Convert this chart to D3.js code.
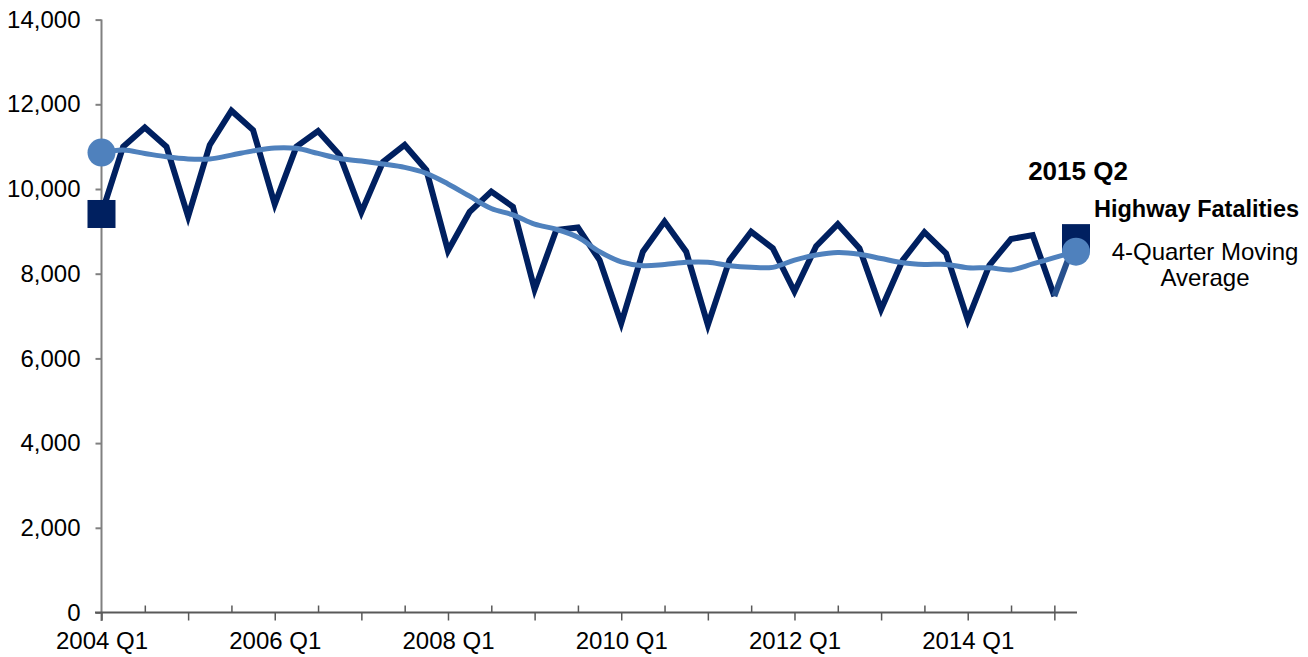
<!DOCTYPE html>
<html>
<head>
<meta charset="utf-8">
<script src="https://cdn.jsdelivr.net/npm/d3@7"></script>
<style>
  body { margin: 0; background: #fff; }
  svg text { font-family: "Liberation Sans", Arial, sans-serif; fill: #000; }
</style>
</head>
<body>
<div class="chart"></div>
<script>
var svgWidth = 1308;
var svgHeight = 657;

// quarters shown on the x axis
var quarters = [
  "2004 Q1", "2004 Q2", "2004 Q3", "2004 Q4",
  "2005 Q1", "2005 Q2", "2005 Q3", "2005 Q4",
  "2006 Q1", "2006 Q2", "2006 Q3", "2006 Q4",
  "2007 Q1", "2007 Q2", "2007 Q3", "2007 Q4",
  "2008 Q1", "2008 Q2", "2008 Q3", "2008 Q4",
  "2009 Q1", "2009 Q2", "2009 Q3", "2009 Q4",
  "2010 Q1", "2010 Q2", "2010 Q3", "2010 Q4",
  "2011 Q1", "2011 Q2", "2011 Q3", "2011 Q4",
  "2012 Q1", "2012 Q2", "2012 Q3", "2012 Q4",
  "2013 Q1", "2013 Q2", "2013 Q3", "2013 Q4",
  "2014 Q1", "2014 Q2", "2014 Q3", "2014 Q4",
  "2015 Q1", "2015 Q2"
];

// highway fatalities per quarter
var fatalities = [
  9410, 11000, 11450, 11000,
  9350, 11040, 11850, 11390,
  9640, 11000, 11370, 10800,
  9450, 10640, 11040, 10450,
  8540, 9460, 9940, 9580,
  7630, 9030, 9090, 8320,
  6830, 8520, 9230, 8520,
  6790, 8320, 8990, 8600,
  7580, 8650, 9170, 8600,
  7160, 8320, 8980, 8480,
  6910, 8200, 8820, 8910,
  7470, 8840
];

// 4-quarter moving average
var movingAvg = [
  10860, 10920, 10840, 10760,
  10710, 10710, 10800, 10900,
  10970, 10960, 10840, 10720,
  10660, 10590, 10510, 10370,
  10120, 9830, 9540, 9390,
  9170, 9050, 8860, 8520,
  8280, 8190, 8220, 8270,
  8270, 8190, 8150, 8150,
  8320, 8440, 8500, 8460,
  8360, 8260, 8220, 8220,
  8140, 8140, 8090, 8230,
  8380, 8520
];

var yTicks = [0, 2000, 4000, 6000, 8000, 10000, 12000, 14000];
var downTicks = ["2004 Q1", "2005 Q1", "2006 Q1", "2007 Q1", "2008 Q1", "2009 Q1",
  "2010 Q1", "2011 Q1", "2012 Q1", "2013 Q1", "2014 Q1", "2015 Q1"];
var upTicks = ["2004 Q3", "2005 Q3", "2006 Q3", "2007 Q3", "2008 Q3", "2009 Q3",
  "2010 Q3", "2011 Q3", "2012 Q3", "2013 Q3", "2014 Q3", "2015 Q1"];
var tickLabels = ["2004 Q1", "2006 Q1", "2008 Q1", "2010 Q1", "2012 Q1", "2014 Q1"];

var svg = d3.select(".chart")
  .append("svg")
  .attr("width", svgWidth)
  .attr("height", svgHeight);

var xScale = d3.scalePoint()
  .domain(quarters)
  .range([101.5, 1076]);

var yScale = d3.scaleLinear()
  .domain([0, 14000])
  .range([612.5, 19.6]);

// y axis
var leftAxis = d3.axisLeft(yScale)
  .tickValues(yTicks)
  .tickSize(6)
  .tickPadding(15)
  .tickFormat(d3.format(","));

var yAxis = svg.append("g")
  .attr("transform", "translate(101.5,0)")
  .call(leftAxis);
yAxis.select(".domain").remove();
yAxis.selectAll("line").attr("stroke", "#808080").attr("stroke-width", 2);
yAxis.selectAll("text").style("font-size", "24px").attr("fill", "#000");

svg.append("line")
  .attr("x1", 101.5).attr("x2", 101.5)
  .attr("y1", yScale(14000)).attr("y2", 621)
  .attr("stroke", "#808080")
  .attr("stroke-width", 2);

// x axis: ticks below at Q1, above at Q3
var bottomAxis = d3.axisBottom(xScale)
  .tickValues(downTicks)
  .tickSize(8)
  .tickPadding(11)
  .tickFormat(function(d) { return tickLabels.indexOf(d) >= 0 ? d : ""; });

var xAxis = svg.append("g")
  .attr("transform", "translate(0,612.5)")
  .call(bottomAxis);
xAxis.select(".domain").remove();
xAxis.selectAll("line").attr("stroke", "#595959").attr("stroke-width", 1.5);
xAxis.selectAll("text").style("font-size", "24px").attr("fill", "#000");

var upAxis = d3.axisBottom(xScale)
  .tickValues(upTicks)
  .tickSize(-7)
  .tickFormat("");

var xAxisUp = svg.append("g")
  .attr("transform", "translate(0,612.5)")
  .call(upAxis);
xAxisUp.select(".domain").remove();
xAxisUp.selectAll("line").attr("stroke", "#595959").attr("stroke-width", 1.5);

svg.append("line")
  .attr("x1", 95).attr("x2", 1077)
  .attr("y1", 612.5).attr("y2", 612.5)
  .attr("stroke", "#595959")
  .attr("stroke-width", 2);

// fatalities line
var n = quarters.length;
var fatalLine = d3.line()
  .x(function(d, i) { return xScale(quarters[i]); })
  .y(function(d) { return yScale(d); });

svg.append("path")
  .datum(fatalities.slice(0, n - 1))
  .attr("d", fatalLine)
  .attr("fill", "none")
  .attr("stroke", "#002060")
  .attr("stroke-width", 6)
  .attr("stroke-linejoin", "miter");

// latest quarter segment drawn lighter
svg.append("path")
  .datum([fatalities[n - 2], fatalities[n - 1]])
  .attr("d", d3.line()
    .x(function(d, i) { return xScale(quarters[n - 2 + i]); })
    .y(function(d) { return yScale(d); }))
  .attr("fill", "none")
  .attr("stroke", "#27508d")
  .attr("stroke-width", 6);

// moving average
var avgLine = d3.line()
  .x(function(d, i) { return xScale(quarters[i]); })
  .y(function(d) { return yScale(d); })
  .curve(d3.curveCatmullRom);

svg.append("path")
  .datum(movingAvg)
  .attr("d", avgLine)
  .attr("fill", "none")
  .attr("stroke", "#4f81bd")
  .attr("stroke-width", 5);

// end markers
var ends = [0, n - 1];
svg.selectAll(".sq")
  .data(ends)
  .enter().append("rect")
    .attr("class", "sq")
    .attr("x", function(i) { return xScale(quarters[i]) - 14; })
    .attr("y", function(i) { return yScale(fatalities[i]) - 14; })
    .attr("width", 28)
    .attr("height", 28)
    .attr("fill", "#002060");

svg.selectAll(".dot")
  .data(ends)
  .enter().append("circle")
    .attr("class", "dot")
    .attr("cx", function(i) { return xScale(quarters[i]); })
    .attr("cy", function(i) { return yScale(movingAvg[i]); })
    .attr("r", 14)
    .attr("fill", "#4f81bd");

// labels on the right
svg.append("text")
  .attr("x", 1078)
  .attr("y", 180)
  .attr("text-anchor", "middle")
  .style("font-size", "26px")
  .style("font-weight", "bold")
  .text(quarters[n - 1]);

svg.append("text")
  .attr("x", 1094)
  .attr("y", 216.5)
  .style("font-size", "23.5px")
  .style("font-weight", "bold")
  .text("Highway Fatalities");

svg.append("text")
  .attr("x", 1205)
  .attr("y", 260)
  .attr("text-anchor", "middle")
  .style("font-size", "24px")
  .text("4-Quarter Moving");

svg.append("text")
  .attr("x", 1205)
  .attr("y", 286)
  .attr("text-anchor", "middle")
  .style("font-size", "24px")
  .text("Average");
</script>
</body>
</html>
